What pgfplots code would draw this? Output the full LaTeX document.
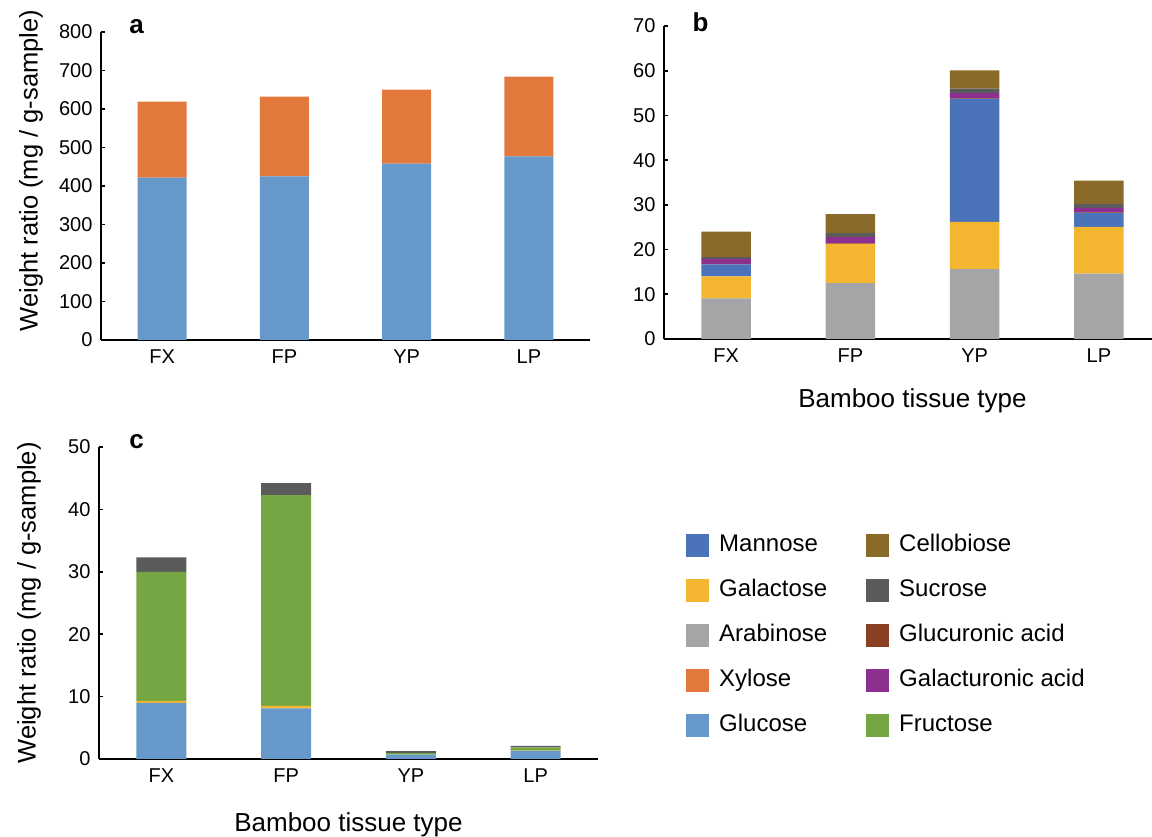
\documentclass[border=0pt]{standalone}
\usepackage{fontspec}
\setmainfont{Liberation Sans}
\usepackage{pgfplots}
\pgfplotsset{compat=1.18}
\definecolor{manC}{HTML}{4A73BA}
\definecolor{galC}{HTML}{F4B631}
\definecolor{araC}{HTML}{A5A4A6}
\definecolor{xylC}{HTML}{E2783B}
\definecolor{glcC}{HTML}{6699CA}
\definecolor{celC}{HTML}{8A6A29}
\definecolor{sucC}{HTML}{5B5B5B}
\definecolor{glcaC}{HTML}{8B3F22}
\definecolor{galaC}{HTML}{8C2F8E}
\definecolor{fruC}{HTML}{76A644}
\pgfplotsset{
  panel/.style={
    scale only axis, anchor=south west,
    axis lines=left, axis line style={-, line width=1.6pt, black},
    xmin=-0.5, xmax=3.5, ymin=0,
    xtick={0,1,2,3}, xticklabels={FX,FP,YP,LP},
    x tick style={draw=none},
    y tick style={line width=1.6pt, black},
    major tick length=4pt, tick align=inside,
    ticklabel style={font=\fontsize{20}{20}\selectfont},
    yticklabel style={xshift=-5pt},
    xticklabel style={yshift=-6pt},
    /pgf/number format/assume math mode=true,
    ybar stacked, bar width=0.4,
    every axis y label/.style={at={(rel axis cs:0,0.5)}, xshift=-70pt, rotate=90, anchor=center, font=\fontsize{25.5}{25.5}\selectfont},
    every axis x label/.style={at={(rel axis cs:0.5,0)}, anchor=center, font=\fontsize{26}{26}\selectfont},
  }
}
\begin{document}
\begin{tikzpicture}[x=1pt,y=1pt]
\useasboundingbox (0,0) rectangle (1152,837);
% ---------- panel a
\begin{axis}[panel, at={(101pt,497pt)}, width=489pt, height=308pt,
  ymax=800, ytick={0,100,...,800},
  ylabel={Weight ratio (mg / g-sample)},
  every axis y label/.append style={at={(rel axis cs:0,0.55)}}]
\addplot[fill=glcC, draw=none] coordinates {(0,422) (1,425) (2,458) (3,477)};
\addplot[fill=xylC, draw=none] coordinates {(0,197) (1,207) (2,192) (3,207)};
\end{axis}
% ---------- panel b
\begin{axis}[panel, at={(664pt,498pt)}, width=497pt, height=313pt,
  ymax=70, ytick={0,10,...,70},
  xlabel={Bamboo tissue type}, every axis x label/.append style={yshift=-62pt}]
\addplot[fill=araC, draw=none] coordinates {(0,9.1) (1,12.5) (2,15.6) (3,14.6)};
\addplot[fill=galC, draw=none] coordinates {(0,4.9) (1,8.8) (2,10.6) (3,10.5)};
\addplot[fill=manC, draw=none] coordinates {(0,2.7) (1,0.0) (2,27.5) (3,3.1)};
\addplot[fill=glcaC, draw=none] coordinates {(0,0.1) (1,0.1) (2,0.1) (3,0.1)};
\addplot[fill=galaC, draw=none] coordinates {(0,1.1) (1,1.4) (2,1.2) (3,1.0)};
\addplot[fill=sucC, draw=none] coordinates {(0,0.4) (1,0.9) (2,1.0) (3,0.9)};
\addplot[fill=celC, draw=none] coordinates {(0,5.7) (1,4.2) (2,4.1) (3,5.2)};
\end{axis}
% ---------- panel c
\begin{axis}[panel, at={(99pt,78pt)}, width=499pt, height=312pt,
  ymax=50, ytick={0,10,...,50},
  ylabel={Weight ratio (mg / g-sample)},
  xlabel={Bamboo tissue type}, every axis x label/.append style={yshift=-66pt}]
\addplot[fill=glcC, draw=none] coordinates {(0,9.0) (1,8.1) (2,0.7) (3,1.3)};
\addplot[fill=galC, draw=none] coordinates {(0,0.3) (1,0.4) (2,0.0) (3,0.05)};
\addplot[fill=fruC, draw=none] coordinates {(0,20.7) (1,33.8) (2,0.25) (3,0.5)};
\addplot[fill=sucC, draw=none] coordinates {(0,2.3) (1,1.9) (2,0.3) (3,0.25)};
\end{axis}
% ---------- legend (hidden axis)
\begin{axis}[scale only axis, anchor=south west, at={(99pt,78pt)}, width=499pt, height=312pt,
  hide axis, xmin=0, xmax=1, ymin=0, ymax=1,
  legend columns=2,
  legend image code/.code={\path[fill, draw=none] (0pt,-11.5pt) rectangle (23pt,11.5pt);},
  legend style={draw=none, fill=none, inner sep=0pt, at={(rel axis cs:1.1764,0.7212)}, anchor=north west,
    font=\fontsize{24}{24}\selectfont, row sep=22pt,
    cells={anchor=west},
    nodes={inner sep=0pt, text height=17pt, text depth=5pt},
    /tikz/every odd column/.append style={column sep=10pt},
    /tikz/every even column/.append style={column sep=0pt}}]
\addlegendimage{fill=manC}\addlegendentry{\makebox[147pt][l]{Mannose}}
\addlegendimage{fill=celC}\addlegendentry{Cellobiose}
\addlegendimage{fill=galC}\addlegendentry{\makebox[147pt][l]{Galactose}}
\addlegendimage{fill=sucC}\addlegendentry{Sucrose}
\addlegendimage{fill=araC}\addlegendentry{\makebox[147pt][l]{Arabinose}}
\addlegendimage{fill=glcaC}\addlegendentry{Glucuronic acid}
\addlegendimage{fill=xylC}\addlegendentry{\makebox[147pt][l]{Xylose}}
\addlegendimage{fill=galaC}\addlegendentry{Galacturonic acid}
\addlegendimage{fill=glcC}\addlegendentry{\makebox[147pt][l]{Glucose}}
\addlegendimage{fill=fruC}\addlegendentry{Fructose}
\end{axis}
% ---------- panel letters
\node[font=\bfseries\fontsize{26}{26}\selectfont] at (136.5,810.5) {a};
\node[font=\bfseries\fontsize{26}{26}\selectfont] at (700.5,814.5) {b};
\node[font=\bfseries\fontsize{26}{26}\selectfont] at (136.5,395) {c};
\end{tikzpicture}
\end{document}
